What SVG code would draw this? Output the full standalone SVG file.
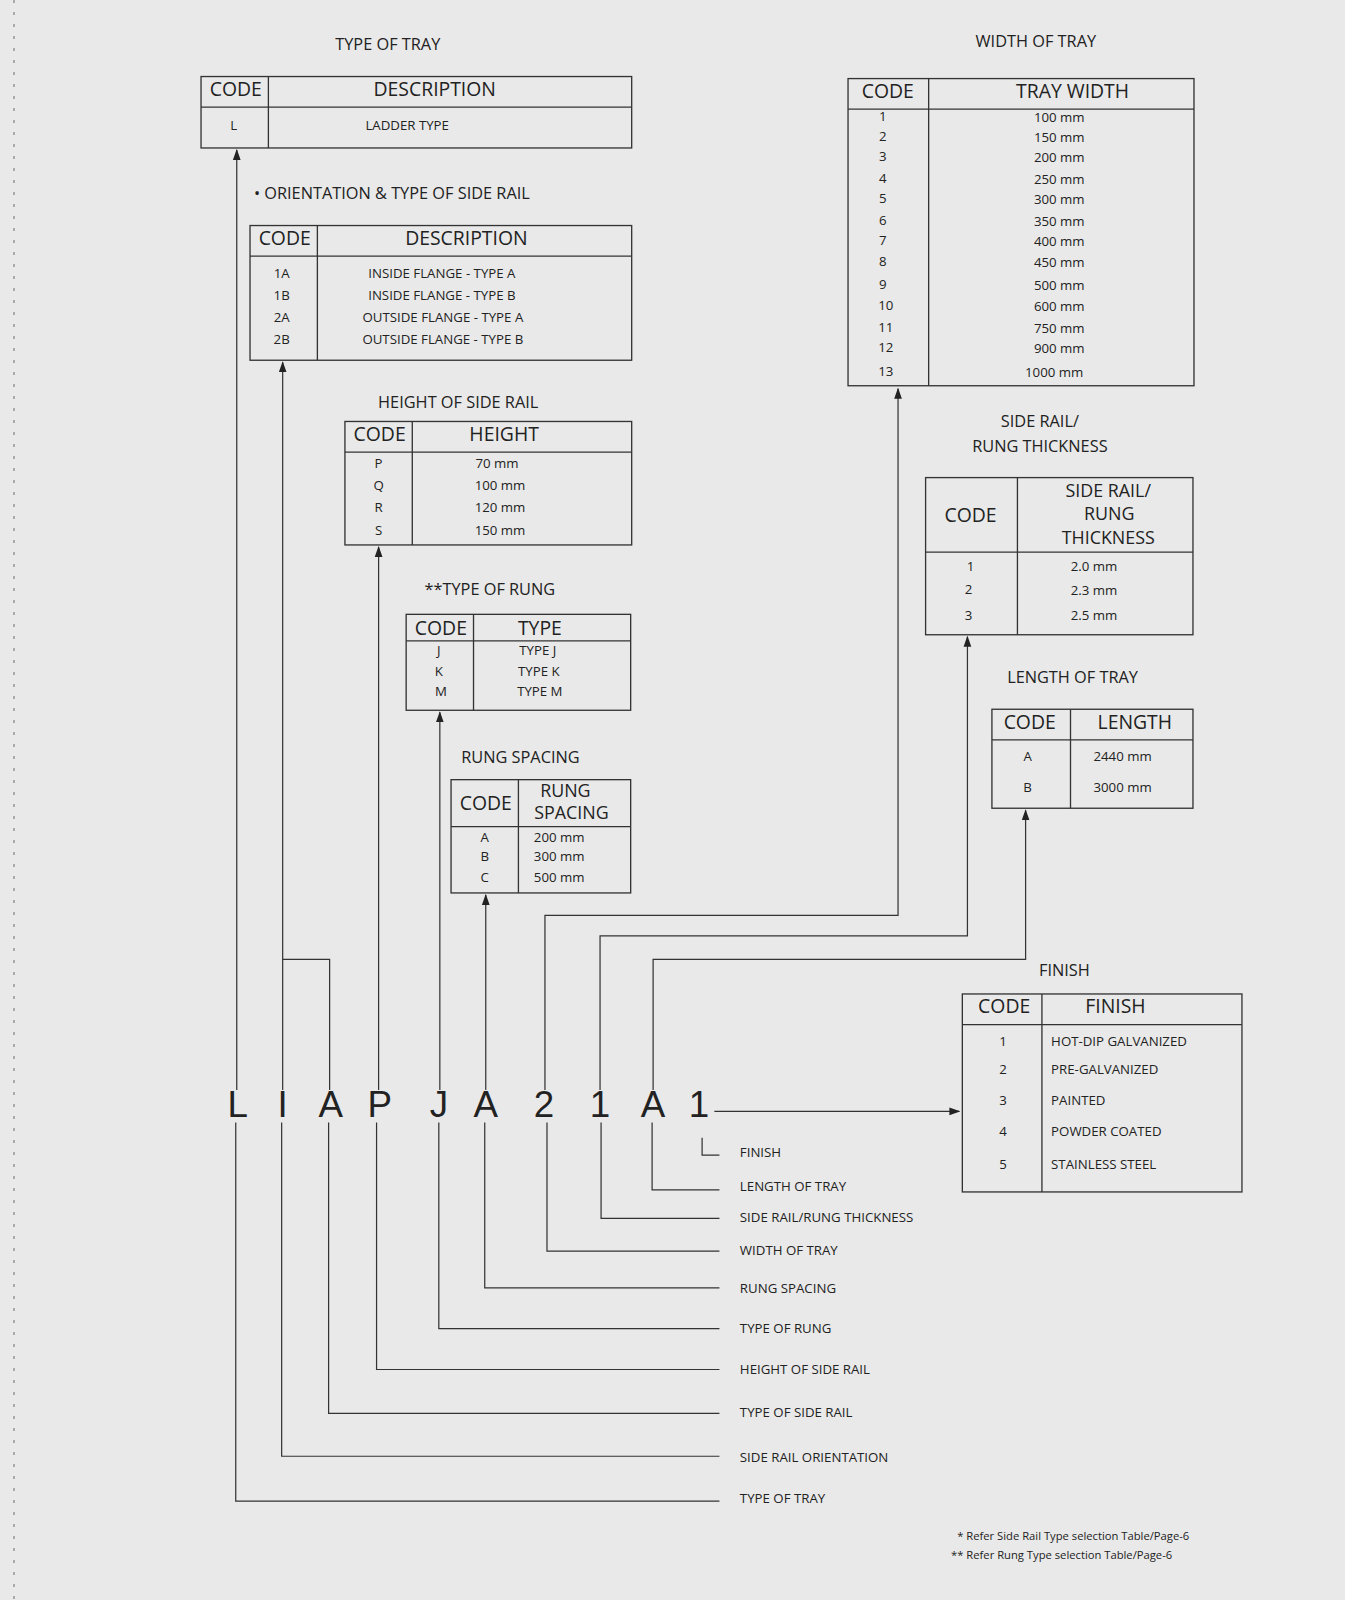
<svg xmlns="http://www.w3.org/2000/svg" width="1345" height="1600" viewBox="0 0 1345 1600">
<style>
text{font-family:"Open Sans","Liberation Sans",sans-serif;fill:#222}
.t{font-size:16px;text-anchor:middle}
.h{font-size:19px;text-anchor:middle}
.h2{font-size:17.5px;text-anchor:middle}
.c{font-size:13px;text-anchor:middle}
.l{font-size:13px}
.big{font-size:36px;text-anchor:middle;font-family:"Liberation Sans",sans-serif}
.box{fill:none;stroke:#333;stroke-width:1.3}
.ln{fill:none;stroke:#333;stroke-width:1.2}
</style>
<defs><marker id="ar" viewBox="0 0 10 10" refX="9" refY="5" markerWidth="9" markerHeight="9" orient="auto-start-reverse"><path d="M0,1.5 L10,5 L0,8.5 z" fill="#222"/></marker></defs>
<rect width="1345" height="1600" fill="#e9e9e9"/>
<line x1="14" y1="0" x2="14" y2="1600" stroke="#aaa" stroke-width="2" stroke-dasharray="3,9"/>
<g transform="scale(1.0205)">
<g id="type-of-tray">
<text class="t" x="380" y="49">TYPE OF TRAY</text>
<rect class="box" x="197" y="75" width="422" height="70"/>
<line class="box" x1="197" y1="105" x2="619" y2="105"/><line class="box" x1="263" y1="75" x2="263" y2="145"/>
<text class="h" x="231" y="94">CODE</text><text class="h" x="426" y="94">DESCRIPTION</text>
<text class="c" x="229" y="127">L</text><text class="c" x="399" y="127">LADDER TYPE</text>
</g>
<g id="orientation">
<text class="t" x="384" y="195">• ORIENTATION &amp; TYPE OF SIDE RAIL</text>
<rect class="box" x="245" y="221" width="374" height="132"/>
<line class="box" x1="245" y1="251" x2="619" y2="251"/><line class="box" x1="311" y1="221" x2="311" y2="353"/>
<text class="h" x="279" y="240">CODE</text><text class="h" x="457" y="240">DESCRIPTION</text>
<text class="c" x="276" y="272">1A</text><text class="c" x="433" y="272">INSIDE FLANGE  - TYPE A</text>
<text class="c" x="276" y="294">1B</text><text class="c" x="433" y="294">INSIDE FLANGE  - TYPE B</text>
<text class="c" x="276" y="316">2A</text><text class="c" x="434" y="316">OUTSIDE FLANGE - TYPE A</text>
<text class="c" x="276" y="337">2B</text><text class="c" x="434" y="337">OUTSIDE FLANGE - TYPE B</text>
</g>
<g id="height">
<text class="t" x="449" y="400">HEIGHT OF SIDE RAIL</text>
<rect class="box" x="338" y="413" width="281" height="121"/>
<line class="box" x1="338" y1="443" x2="619" y2="443"/><line class="box" x1="404" y1="413" x2="404" y2="534"/>
<text class="h" x="372" y="432">CODE</text><text class="h" x="494" y="432">HEIGHT</text>
<text class="c" x="371" y="459">P</text><text class="c" x="487" y="459">70  mm</text>
<text class="c" x="371" y="480">Q</text><text class="c" x="490" y="480">100 mm</text>
<text class="c" x="371" y="502">R</text><text class="c" x="490" y="502">120 mm</text>
<text class="c" x="371" y="524">S</text><text class="c" x="490" y="524">150 mm</text>
</g>
<g id="rung-type">
<text class="t" x="480" y="583">**TYPE OF RUNG</text>
<rect class="box" x="398" y="602" width="220" height="94"/>
<line class="box" x1="398" y1="628" x2="618" y2="628"/><line class="box" x1="464" y1="602" x2="464" y2="696"/>
<text class="h" x="432" y="622">CODE</text><text class="h" x="529" y="622">TYPE</text>
<text class="c" x="430" y="642">J</text><text class="c" x="527" y="642">TYPE J</text>
<text class="c" x="430" y="662">K</text><text class="c" x="528" y="662">TYPE K</text>
<text class="c" x="432" y="682">M</text><text class="c" x="529" y="682">TYPE M</text>
</g>
<g id="rung-spacing">
<text class="t" x="510" y="748">RUNG SPACING</text>
<rect class="box" x="442" y="764" width="176" height="111"/>
<line class="box" x1="442" y1="810" x2="618" y2="810"/><line class="box" x1="508" y1="764" x2="508" y2="875"/>
<text class="h" x="476" y="794">CODE</text><text class="h2" x="554" y="781">RUNG</text><text class="h2" x="560" y="803">SPACING</text>
<text class="c" x="475" y="825">A</text><text class="c" x="548" y="825">200 mm</text>
<text class="c" x="475" y="844">B</text><text class="c" x="548" y="844">300 mm</text>
<text class="c" x="475" y="864">C</text><text class="c" x="548" y="864">500 mm</text>
</g>
<g id="width">
<text class="t" x="1015" y="46">WIDTH OF TRAY</text>
<rect class="box" x="831" y="77" width="339" height="301"/>
<line class="box" x1="831" y1="107" x2="1170" y2="107"/><line class="box" x1="910" y1="77" x2="910" y2="378"/>
<text class="h" x="870" y="96">CODE</text><text class="h" x="1051" y="96">TRAY WIDTH</text>
<text class="c" x="865" y="119">1</text><text class="c" x="1038" y="120">100 mm</text>
<text class="c" x="865" y="138">2</text><text class="c" x="1038" y="139">150 mm</text>
<text class="c" x="865" y="158">3</text><text class="c" x="1038" y="159">200 mm</text>
<text class="c" x="865" y="179">4</text><text class="c" x="1038" y="180">250 mm</text>
<text class="c" x="865" y="199">5</text><text class="c" x="1038" y="200">300 mm</text>
<text class="c" x="865" y="220">6</text><text class="c" x="1038" y="221">350 mm</text>
<text class="c" x="865" y="240">7</text><text class="c" x="1038" y="241">400 mm</text>
<text class="c" x="865" y="261">8</text><text class="c" x="1038" y="262">450 mm</text>
<text class="c" x="865" y="283">9</text><text class="c" x="1038" y="284">500 mm</text>
<text class="c" x="868" y="304">10</text><text class="c" x="1038" y="305">600 mm</text>
<text class="c" x="868" y="325">11</text><text class="c" x="1038" y="326">750 mm</text>
<text class="c" x="868" y="345">12</text><text class="c" x="1038" y="346">900 mm</text>
<text class="c" x="868" y="368">13</text><text class="c" x="1033" y="369">1000 mm</text>
</g>
<g id="thickness">
<text class="t" x="1019" y="418">SIDE RAIL/</text><text class="t" x="1019" y="443">RUNG THICKNESS</text>
<rect class="box" x="907" y="468" width="262" height="154"/>
<line class="box" x1="907" y1="541" x2="1169" y2="541"/><line class="box" x1="997" y1="468" x2="997" y2="622"/>
<text class="h" x="951" y="512">CODE</text>
<text class="h2" x="1086" y="487">SIDE RAIL/</text><text class="h2" x="1087" y="510">RUNG</text><text class="h2" x="1086" y="533">THICKNESS</text>
<text class="c" x="951" y="560">1</text><text class="c" x="1072" y="560">2.0 mm</text>
<text class="c" x="949" y="582">2</text><text class="c" x="1072" y="583">2.3 mm</text>
<text class="c" x="949" y="608">3</text><text class="c" x="1072" y="608">2.5 mm</text>
</g>
<g id="length">
<text class="t" x="1051" y="669">LENGTH OF TRAY</text>
<rect class="box" x="972" y="695" width="197" height="97"/>
<line class="box" x1="972" y1="725" x2="1169" y2="725"/><line class="box" x1="1049" y1="695" x2="1049" y2="792"/>
<text class="h" x="1009" y="714">CODE</text><text class="h" x="1112" y="714">LENGTH</text>
<text class="c" x="1007" y="746">A</text><text class="c" x="1100" y="746">2440 mm</text>
<text class="c" x="1007" y="776">B</text><text class="c" x="1100" y="776">3000 mm</text>
</g>
<g id="finish">
<text class="t" x="1043" y="956">FINISH</text>
<rect class="box" x="943" y="974" width="274" height="194"/>
<line class="box" x1="943" y1="1004" x2="1217" y2="1004"/><line class="box" x1="1021" y1="974" x2="1021" y2="1168"/>
<text class="h" x="984" y="993">CODE</text><text class="h" x="1093" y="993">FINISH</text>
<text class="c" x="983" y="1025">1</text><text class="l" x="1030" y="1025">HOT-DIP GALVANIZED</text>
<text class="c" x="983" y="1052">2</text><text class="l" x="1030" y="1052">PRE-GALVANIZED</text>
<text class="c" x="983" y="1083">3</text><text class="l" x="1030" y="1083">PAINTED</text>
<text class="c" x="983" y="1113">4</text><text class="l" x="1030" y="1113">POWDER COATED</text>
<text class="c" x="983" y="1146">5</text><text class="l" x="1030" y="1146">STAINLESS STEEL</text>
</g>
<g id="code">
<text class="big" x="233" y="1095">L</text><text class="big" x="277" y="1095">I</text><text class="big" x="324" y="1095">A</text><text class="big" x="372" y="1095">P</text><text class="big" x="430" y="1095">J</text><text class="big" x="476" y="1095">A</text><text class="big" x="533" y="1095">2</text><text class="big" x="588" y="1095">1</text><text class="big" x="640" y="1095">A</text><text class="big" x="685" y="1095">1</text>
</g>
<g id="labels">
<text class="l" x="725" y="1134">FINISH</text>
<text class="l" x="725" y="1167">LENGTH OF TRAY</text>
<text class="l" x="725" y="1197">SIDE RAIL/RUNG THICKNESS</text>
<text class="l" x="725" y="1230">WIDTH OF TRAY</text>
<text class="l" x="725" y="1267">RUNG SPACING</text>
<text class="l" x="725" y="1306">TYPE OF RUNG</text>
<text class="l" x="725" y="1346">HEIGHT OF SIDE RAIL</text>
<text class="l" x="725" y="1389">TYPE OF SIDE RAIL</text>
<text class="l" x="725" y="1433">SIDE RAIL ORIENTATION</text>
<text class="l" x="725" y="1473">TYPE OF TRAY</text>
<text x="938" y="1509" style="font-size:11px">* Refer Side Rail Type selection Table/Page-6</text>
<text x="932" y="1528" style="font-size:11px">** Refer Rung Type selection Table/Page-6</text>
</g>
<g id="connectors">
<path class="ln" d="M232,1068 V147" marker-end="url(#ar)"/>
<path class="ln" d="M277,1068 V355" marker-end="url(#ar)"/>
<path class="ln" d="M323,1068 V940 H277"/>
<path class="ln" d="M371,1068 V536" marker-end="url(#ar)"/>
<path class="ln" d="M431,1068 V698" marker-end="url(#ar)"/>
<path class="ln" d="M476,1068 V877" marker-end="url(#ar)"/>
<path class="ln" d="M534,1068 V897 H880 V381" marker-end="url(#ar)"/>
<path class="ln" d="M588,1068 V917 H948 V624" marker-end="url(#ar)"/>
<path class="ln" d="M640,1068 V940 H1005 V794" marker-end="url(#ar)"/>
<path class="ln" d="M700,1089 H940" marker-end="url(#ar)"/>
<path class="ln" d="M231,1100 V1471 H705"/>
<path class="ln" d="M276,1100 V1427 H705"/>
<path class="ln" d="M322,1100 V1385 H705"/>
<path class="ln" d="M369,1100 V1342 H705"/>
<path class="ln" d="M430,1100 V1302 H705"/>
<path class="ln" d="M475,1100 V1262 H705"/>
<path class="ln" d="M536,1100 V1226 H705"/>
<path class="ln" d="M589,1100 V1194 H705"/>
<path class="ln" d="M639,1100 V1166 H705"/>
<path class="ln" d="M688,1115 V1132 H705"/>
</g>
</g>
</svg>
